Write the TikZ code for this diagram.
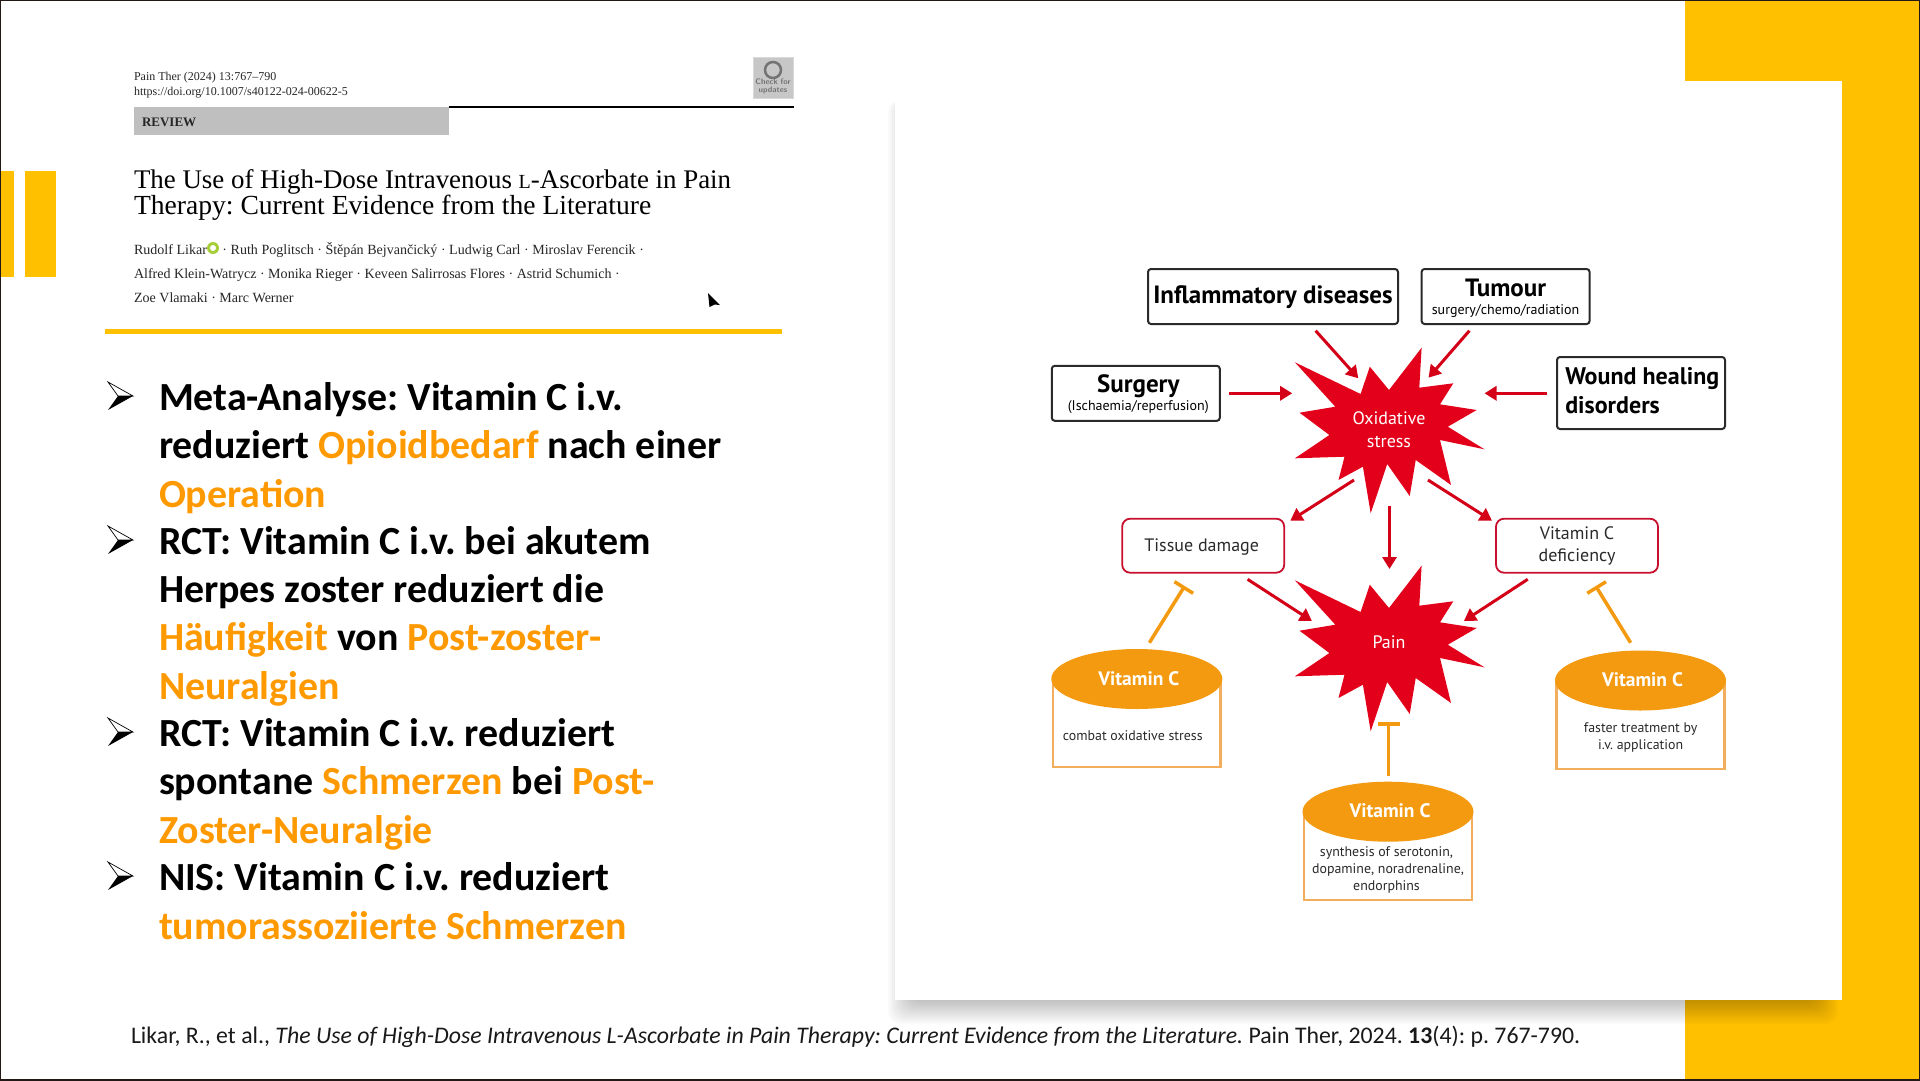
\documentclass[tikz,border=0pt]{standalone}
\usepackage{fontspec}
\setmainfont{Carlito}
\newfontfamily\papfont{Liberation Serif}
\newfontfamily\diafont{PT Sans}
\usetikzlibrary{arrows.meta,shapes.geometric}
\definecolor{gold}{HTML}{FFC000}
\definecolor{hl}{HTML}{FF9900}
\definecolor{edge}{HTML}{231815}
\definecolor{starred}{HTML}{E3001B}
\definecolor{arrred}{HTML}{D40018}
\definecolor{boxred}{HTML}{C8102E}
\definecolor{vitfill}{HTML}{F39A10}
\definecolor{vitline}{HTML}{F2AE5C}
\definecolor{inkgrey}{HTML}{2A2A2A}
\definecolor{orcid}{HTML}{A6CE39}
\newcommand\fs[2]{\fontsize{#1}{#2}\selectfont}
\newcommand\hi[1]{\textcolor{hl}{#1}}
\newcommand\starshape{(1421.6,347.7) -- (1419.3,387.7) -- (1453.3,383.3) -- (1440,404.3) -- (1476.7,410) -- (1447.8,426.7) -- (1484.5,449.3) -- (1440,440) -- (1451,485) -- (1415.7,460) -- (1409.7,496) -- (1387.2,464) -- (1370.7,513.3) -- (1362.9,466.7) -- (1338.5,480) -- (1344.5,456.7) -- (1294.9,458.3) -- (1329.4,435) -- (1299.5,412.7) -- (1335.3,406.7) -- (1294.9,362.3) -- (1360.6,394) -- (1369.8,366.7) -- (1389,390) -- cycle}
\tikzset{
  bl/.code={\pgfmathsetmacro\tmpH{12+#1}\pgfmathsetmacro\tmpD{12-#1}\tikzset{text height=\tmpH pt,text depth=\tmpD pt}},
  sz/.code args={#1x#2}{\tikzset{minimum width=#1pt,minimum height=#2pt}},
  every node/.style={inner sep=0pt,outer sep=0pt},
  blackbox/.style={draw=inkgrey,line width=2pt,rounded corners=3pt,fill=white,align=center,font=\diafont\fs{14}{18},text=black},
  redbox/.style={draw=boxred,line width=1.8pt,rounded corners=8pt,fill=white,align=center,font=\diafont\fs{18}{22},text=inkgrey},
  vitcap/.style={ellipse,fill=vitfill,text=white,font=\diafont\bfseries\fs{19.5}{24},minimum width=171pt,minimum height=60pt},
  vitbody/.style={rectangle,draw=vitline,line width=2.4pt,fill=white,align=center,font=\diafont\fs{13.9}{17},text=inkgrey},
  burst/.style={fill=starred},
  burstlabel/.style={text=white,align=center,font=\diafont\fs{18}{22.5}},
  redarrow/.style={draw=arrred,line width=3pt,-{Triangle[width=14pt,length=12pt]}},
  tbar/.style={draw=vitfill,line width=3.5pt,-{Bar[width=22pt,length=3.5pt]}},
  bullettext/.style={anchor=base west,align=left,font=\bfseries\fs{39.9}{48.05}},
  papertext/.style={anchor=base west,font=\papfont\fs{14.05}{16},text=black!85},
  bulmark/.pic={
    \fill[white] (0,0) -- (25,14) -- (10,14) -- cycle;
    \draw[line width=0.7pt] (0,0) -- (25,14) -- (10,14) -- cycle;
    \fill[black] (25,14) -- (0,28) -- (10,14) -- cycle;
  }
}
\begin{document}
\frenchspacing
\begin{tikzpicture}[x=1pt,y=-1pt]
\useasboundingbox (0,0) rectangle (1920,1080);
% slide background
\fill[white] (0,0) rectangle (1920,1080);
\fill[gold] (1685,0) rectangle (1920,1080);
\fill[gold] (0,171) rectangle (14,277);
\fill[gold] (25,171) rectangle (56,277);
% panel shadow
\foreach \i in {-12,-10,...,12}
  \fill[black,opacity=.018,rounded corners=12pt] (900-\i,100) rectangle (1826+\i,1012+\i);
\fill[white] (895,81) rectangle (1842,1000);
% paper excerpt
\node[papertext,font=\papfont\fs{12}{14}] (p1) at (134,80) {Pain Ther (2024) 13:767–790};
\node[papertext,font=\papfont\fs{12}{14}] (p2) at (134,95) {https://doi.org/10.1007/s40122-024-00622-5};
\node[fill=black!25,minimum width=315pt,minimum height=28pt] (revbar) at (291,121) {};
\node[papertext,font=\papfont\bfseries\fs{13}{14}] (rev) at (142,126) {REVIEW};
\draw[line width=2pt] (revbar.north east) -- ++(345,0) coordinate (ruleend);
\node[fill=black!22,draw=black!15,minimum width=40pt,minimum height=41pt,font=\sffamily\bfseries\fs{8}{8},align=center,text=black!55] (check) at (773,77.5) {\\[15pt]Check for\\updates};
\draw[black!55,line width=2.5pt] (773,70) circle (8);
\node[papertext,text=black,font=\papfont\fs{26.9}{26}] (t1) at (134,188) {The Use of High-Dose Intravenous {\fs{20}{26}L}-Ascorbate in Pain};
\node[papertext,text=black,font=\papfont\fs{27.6}{26}] (t2) at (134,214) {Therapy: Current Evidence from the Literature};
\node[papertext] (a1) at (134,254) {Rudolf Likar\hspace{12pt} · Ruth Poglitsch · Štěpán Bejvančický · Ludwig Carl · Miroslav Ferencik ·};
\fill[orcid] (213,248) circle (6);
\fill[white] (213,248) circle (3);
\node[papertext] (a2) at (134,278) {Alfred Klein-Watrycz · Monika Rieger · Keveen Salirrosas Flores · Astrid Schumich ·};
\node[papertext] (a3) at (134,302) {Zoe Vlamaki · Marc Werner};
\fill[black] (708,293) -- (720,305) -- (714.5,304.5) -- (709.5,307) -- cycle;
\fill[gold] (105,329) rectangle (782,334);
% bullets
\pic at (108,382) {bulmark};
\pic at (108,526) {bulmark};
\pic at (108,718) {bulmark};
\pic at (108,862) {bulmark};
\node[bullettext] (b1) at (159,507) {Meta-Analyse: Vitamin C i.v.\\reduziert \hi{Opioidbedarf} nach einer\\\hi{Operation}};
\node[bullettext] (b2) at (159,699) {RCT: Vitamin C i.v. bei akutem\\Herpes zoster reduziert die\\\hi{Häufigkeit} von \hi{Post-zoster-}\\\hi{Neuralgien}};
\node[bullettext] (b3) at (159,843) {RCT: Vitamin C i.v. reduziert\\spontane \hi{Schmerzen} bei \hi{Post-}\\\hi{Zoster-Neuralgie}};
\node[bullettext] (b4) at (159,939) {NIS: Vitamin C i.v. reduziert\\\hi{tumorassoziierte Schmerzen}};
% citation
\node[anchor=base west,font=\fs{23.8}{28},text=black!90] (cite) at (131,1043) {Likar, R., et al., \textit{The Use of High-Dose Intravenous L-Ascorbate in Pain Therapy: Current Evidence from the Literature.} Pain Ther, 2024. \textbf{13}(4): p. 767-790.};
% stars
\fill[burst] \starshape;
\fill[burst,shift={(0,218)}] \starshape;
\node[burstlabel,bl=42.5] (ox) at (1389,420) {Oxidative\\stress};
\node[burstlabel,bl=10.5] (pain) at (1389,638) {Pain};
% causes
\node[blackbox,sz=250x55,bl=7.2,font=\diafont\bfseries\fs{25}{26}] (infl) at (1273,296.5) {Inflammatory diseases};
\node[blackbox,sz=168x55,bl=23.4] (tum) at (1505.6,296.5) {{\bfseries\fs{25}{26}Tumour}\\surgery/chemo/radiation};
\node[blackbox,sz=168x55,bl=21.9] (surg) at (1135.8,393.3) {\hspace*{5pt}{\bfseries\fs{25}{26}Surgery}\\\hspace*{5pt}(Ischaemia/reperfusion)};
\node[blackbox,sz=168x72,bl=29.5,align=left,font=\diafont\bfseries\fs{24}{29}] (wound) at (1641,393) {\hspace*{2.5pt}Wound healing\\\hspace*{2.5pt}disorders};
% consequences
\node[redbox,sz=162x54,bl=5.3] (tissue) at (1203.2,545.7) {Tissue damage\hspace*{3pt}};
\node[redbox,sz=162x54,bl=18.7] (defic) at (1577,545.7) {Vitamin C\\deficiency};
% vitamin cans
\node[vitbody,sz=167.5x87,bl=21] (bodyL) at (1136.75,723.5) {combat oxidative stress\hspace*{8pt}};
\node[vitcap,bl=6.9] (capL) at (1136.8,679) {\hspace*{4pt}Vitamin C};
\node[vitbody,sz=168x88,bl=37] (bodyR) at (1640.6,725) {faster treatment by\\i.v. application};
\node[vitcap,bl=5.5] (capR) at (1640.5,680.5) {\hspace*{4pt}Vitamin C};
\node[vitbody,sz=168x88,bl=56.5] (bodyB) at (1388,856) {synthesis of serotonin,\hspace*{3pt}\\dopamine, noradrenaline,\hspace*{3pt}\\endorphins\hspace*{3pt}};
\node[vitcap,bl=5.3] (capB) at (1388,811.7) {\hspace*{4pt}Vitamin C};
% connectors
\draw[redarrow] ([shift={(42.6,34.2)}]infl.center) -- ([shift={(-30.7,-41.7)}]ox.center);
\draw[redarrow] ([shift={(-36.2,34.2)}]tum.center) -- ([shift={(39.5,-42.3)}]ox.center);
\draw[redarrow] ([shift={(93,0)}]surg.center) -- ([shift={(-96.8,-26.7)}]ox.center);
\draw[redarrow] ([shift={(-93.6,0.3)}]wound.center) -- ([shift={(95.5,-26.7)}]ox.center);
\draw[redarrow] ([shift={(-35,60)}]ox.center) -- ([shift={(87.1,-25)}]tissue.center);
\draw[redarrow] ([shift={(0.5,85.7)}]ox.center) -- ([shift={(0.5,-69)}]pain.center);
\draw[redarrow] ([shift={(39,60)}]ox.center) -- ([shift={(-85,-25)}]defic.center);
\draw[redarrow] ([shift={(44.4,33.6)}]tissue.center) -- ([shift={(-77.1,-17)}]pain.center);
\draw[redarrow] ([shift={(-49.3,33.6)}]defic.center) -- ([shift={(74.9,-17)}]pain.center);
\draw[tbar] ([shift={(12.6,-36.3)}]capL.center) -- ([shift={(-18.5,40.3)}]tissue.center);
\draw[tbar] ([shift={(-9.9,-37.8)}]capR.center) -- ([shift={(18.7,40.3)}]defic.center);
\draw[tbar] ([shift={(0.6,-35.7)}]capB.center) -- ([shift={(-0.4,84.3)}]pain.center);
% slide edge
\draw[edge,line width=2pt] (0,0) rectangle (1920,1080);
\end{tikzpicture}
\end{document}
